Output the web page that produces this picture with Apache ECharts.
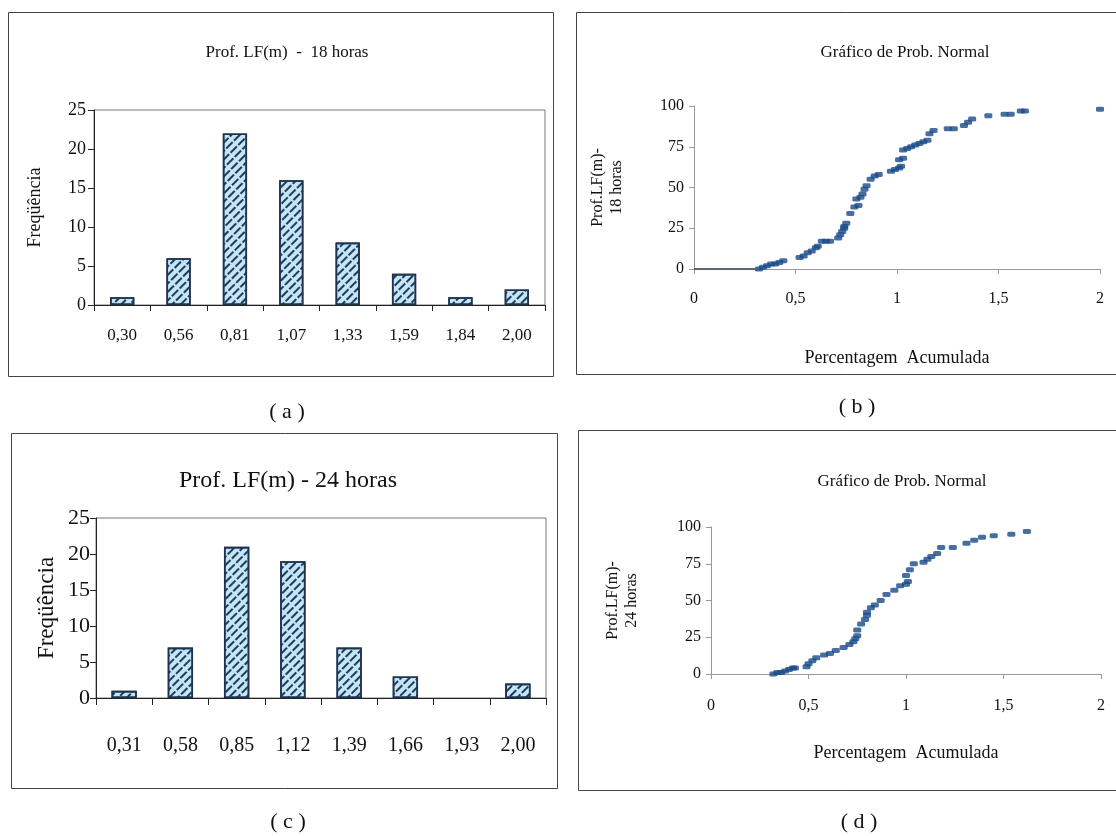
<!DOCTYPE html>
<html>
<head>
<meta charset="utf-8">
<script src="https://cdn.jsdelivr.net/npm/echarts@6/dist/echarts.min.js"></script>
<style>
html,body{margin:0;padding:0;background:#fff;}
#c{width:1116px;height:836px;}
</style>
</head>
<body>
<div id="c"></div>
<script>
// ---- data ----
var catA = ['0,30','0,56','0,81','1,07','1,33','1,59','1,84','2,00'];
var freqA = [1, 6, 22, 16, 8, 4, 1, 2];
var catC = ['0,31','0,58','0,85','1,12','1,39','1,66','1,93','2,00'];
var freqC = [1, 7, 21, 19, 7, 3, 0, 2];

var probBx = [0.32,0.34,0.36,0.38,0.40,0.42,0.44,0.52,0.54,0.56,0.58,0.60,0.61,0.63,0.65,0.67,0.71,0.72,0.73,0.74,0.74,0.75,0.77,0.79,0.81,0.80,0.82,0.83,0.84,0.85,0.87,0.89,0.91,0.97,0.99,1.01,1.02,1.01,1.03,1.03,1.05,1.07,1.09,1.11,1.13,1.15,1.16,1.18,1.25,1.28,1.33,1.35,1.37,1.45,1.53,1.56,1.61,1.63,2.00];
var probBy = [0,1,2,3,3,4,5,7,8,10,11,13,14,17,17,17,19,21,23,25,26,28,34,38,39,43,44,46,49,51,55,57,58,60,61,62,63,67,68,73,74,75,76,77,78,79,83,85,86,86,88,90,92,94,95,95,97,97,98];
var baseBx = [0, 0.3];
var baseBy = [0, 0];

var probDx = [0.32,0.34,0.36,0.38,0.40,0.42,0.43,0.49,0.50,0.52,0.54,0.58,0.61,0.64,0.68,0.71,0.73,0.74,0.75,0.75,0.77,0.79,0.80,0.80,0.82,0.84,0.87,0.90,0.94,0.97,1.00,1.01,1.00,1.02,1.04,1.09,1.11,1.13,1.16,1.18,1.24,1.31,1.35,1.39,1.45,1.54,1.62];
var probDy = [0,1,1,2,3,4,4,5,7,9,11,13,14,16,18,20,22,24,26,30,34,37,40,42,45,47,50,54,57,60,61,63,67,71,75,76,78,80,82,86,86,89,91,93,94,95,97];

function pairs(xs, ys){ var r=[]; for(var i=0;i<xs.length;i++) r.push([xs[i], ys[i]]); return r; }
function comma(v){ return String(v).replace('.', ','); }
function hideZero(arr){ return arr.map(function(v){ return v === 0 ? '-' : v; }); }

var FONT = "'Liberation Serif','Times New Roman',serif";
var TXT = '#111';

var barDecal = {
  symbol: 'rect',
  color: '#1f3a5a',
  dashArrayX: [[9, 2]],
  dashArrayY: [1.6, 4],
  rotation: -Math.PI / 4,
  symbolSize: 1
};
var barStyle = {
  color: '#c3e5f6',
  borderColor: '#1f3350',
  borderWidth: 1.6,
  decal: barDecal
};

var chart = echarts.init(document.getElementById('c'), null, {renderer: 'canvas'});

var option = {
  backgroundColor: '#fff',
  animation: false,
  textStyle: {fontFamily: FONT},
  title: [
    {text: 'Prof. LF(m)  -  18 horas', left: 282, top: 39, textAlign: 'center',
     textStyle: {fontFamily: FONT, fontSize: 17, fontWeight: 'normal', color: TXT}},
    {text: 'Gráfico de Prob. Normal', left: 900, top: 39, textAlign: 'center',
     textStyle: {fontFamily: FONT, fontSize: 17, fontWeight: 'normal', color: TXT}},
    {text: 'Prof. LF(m) - 24 horas', left: 283, top: 464, textAlign: 'center',
     textStyle: {fontFamily: FONT, fontSize: 24, fontWeight: 'normal', color: TXT, letterSpacing: -1}},
    {text: 'Gráfico de Prob. Normal', left: 897, top: 468, textAlign: 'center',
     textStyle: {fontFamily: FONT, fontSize: 17, fontWeight: 'normal', color: TXT}},
    {text: '( a )', left: 282, top: 396, textAlign: 'center',
     textStyle: {fontFamily: FONT, fontSize: 22, fontWeight: 'normal', color: TXT}},
    {text: '( b )', left: 852, top: 391, textAlign: 'center',
     textStyle: {fontFamily: FONT, fontSize: 22, fontWeight: 'normal', color: TXT}},
    {text: '( c )', left: 283, top: 806, textAlign: 'center',
     textStyle: {fontFamily: FONT, fontSize: 22, fontWeight: 'normal', color: TXT}},
    {text: '( d )', left: 854, top: 806, textAlign: 'center',
     textStyle: {fontFamily: FONT, fontSize: 22, fontWeight: 'normal', color: TXT}}
  ],
  graphic: [
    {type: 'rect', shape: {x: 8.5, y: 12.5, width: 545, height: 364}, style: {fill: 'none', stroke: '#444', lineWidth: 1}, z: -1},
    {type: 'rect', shape: {x: 576.5, y: 12.5, width: 560, height: 362}, style: {fill: 'none', stroke: '#444', lineWidth: 1}, z: -1},
    {type: 'rect', shape: {x: 11.5, y: 433.5, width: 546, height: 355}, style: {fill: 'none', stroke: '#444', lineWidth: 1}, z: -1},
    {type: 'rect', shape: {x: 578.5, y: 430.5, width: 560, height: 360}, style: {fill: 'none', stroke: '#444', lineWidth: 1}, z: -1}
  ],
  grid: [
    {left: 94, top: 110, width: 451, height: 195, show: true, borderColor: '#777', borderWidth: 1, containLabel: false},
    {left: 694, top: 106, width: 406, height: 163, containLabel: false},
    {left: 96, top: 518, width: 450, height: 180, show: true, borderColor: '#777', borderWidth: 1, containLabel: false},
    {left: 711, top: 527, width: 390, height: 147, containLabel: false}
  ],
  xAxis: [
    {gridIndex: 0, type: 'category', data: catA, boundaryGap: true,
     axisLine: {lineStyle: {color: '#222', width: 1}},
     axisTick: {show: true, length: 6, lineStyle: {color: '#222'}},
     axisLabel: {color: TXT, fontFamily: FONT, fontSize: 17, margin: 22, letterSpacing: -1}},
    {gridIndex: 1, type: 'value', min: 0, max: 2, interval: 0.5,
     splitLine: {show: false},
     axisLine: {lineStyle: {color: '#999', width: 1}},
     axisTick: {show: true, length: 5, lineStyle: {color: '#999'}},
     axisLabel: {color: TXT, fontFamily: FONT, fontSize: 16, margin: 22, formatter: comma},
     name: 'Percentagem  Acumulada', nameLocation: 'middle', nameGap: 80,
     nameTextStyle: {color: TXT, fontFamily: FONT, fontSize: 18}},
    {gridIndex: 2, type: 'category', data: catC, boundaryGap: true,
     axisLine: {lineStyle: {color: '#222', width: 1}},
     axisTick: {show: true, length: 7, lineStyle: {color: '#222'}},
     axisLabel: {color: TXT, fontFamily: FONT, fontSize: 20, margin: 38, letterSpacing: -2}},
    {gridIndex: 3, type: 'value', min: 0, max: 2, interval: 0.5,
     splitLine: {show: false},
     axisLine: {lineStyle: {color: '#999', width: 1}},
     axisTick: {show: true, length: 5, lineStyle: {color: '#999'}},
     axisLabel: {color: TXT, fontFamily: FONT, fontSize: 16, margin: 24, formatter: comma},
     name: 'Percentagem  Acumulada', nameLocation: 'middle', nameGap: 70,
     nameTextStyle: {color: TXT, fontFamily: FONT, fontSize: 18}}
  ],
  yAxis: [
    {gridIndex: 0, type: 'value', min: 0, max: 25, interval: 5,
     splitLine: {show: false},
     axisLine: {show: true, lineStyle: {color: '#222'}},
     axisTick: {show: true, length: 6, lineStyle: {color: '#222'}},
     axisLabel: {color: TXT, fontFamily: FONT, fontSize: 18, margin: 8, letterSpacing: -1},
     name: 'Freqüência', nameLocation: 'middle', nameGap: 50,
     nameTextStyle: {color: TXT, fontFamily: FONT, fontSize: 18}},
    {gridIndex: 1, type: 'value', min: 0, max: 100, interval: 25,
     splitLine: {show: false},
     axisLine: {show: true, lineStyle: {color: '#999'}},
     axisTick: {show: true, length: 5, lineStyle: {color: '#999'}},
     axisLabel: {color: TXT, fontFamily: FONT, fontSize: 16, margin: 10, letterSpacing: -1},
     name: 'Prof.LF(m)-\n18 horas', nameLocation: 'middle', nameGap: 68,
     nameTextStyle: {color: TXT, fontFamily: FONT, fontSize: 16, lineHeight: 19}},
    {gridIndex: 2, type: 'value', min: 0, max: 25, interval: 5,
     splitLine: {show: false},
     axisLine: {show: true, lineStyle: {color: '#222'}},
     axisTick: {show: true, length: 6, lineStyle: {color: '#222'}},
     axisLabel: {color: TXT, fontFamily: FONT, fontSize: 22, margin: 6, letterSpacing: -2},
     name: 'Freqüência', nameLocation: 'middle', nameGap: 38,
     nameTextStyle: {color: TXT, fontFamily: FONT, fontSize: 23}},
    {gridIndex: 3, type: 'value', min: 0, max: 100, interval: 25,
     splitLine: {show: false},
     axisLine: {show: true, lineStyle: {color: '#999'}},
     axisTick: {show: true, length: 5, lineStyle: {color: '#999'}},
     axisLabel: {color: TXT, fontFamily: FONT, fontSize: 16, margin: 10, letterSpacing: -1},
     name: 'Prof.LF(m)-\n24 horas', nameLocation: 'middle', nameGap: 70,
     nameTextStyle: {color: TXT, fontFamily: FONT, fontSize: 16, lineHeight: 19}}
  ],
  series: [
    {type: 'bar', xAxisIndex: 0, yAxisIndex: 0, data: freqA, barWidth: '43%', itemStyle: barStyle},
    {type: 'line', xAxisIndex: 1, yAxisIndex: 1, data: pairs(baseBx, baseBy), symbol: 'none',
     lineStyle: {color: '#2a3a40', width: 1.5}, z: 3},
    {type: 'scatter', xAxisIndex: 1, yAxisIndex: 1, data: pairs(probBx, probBy),
     symbol: 'roundRect', symbolSize: [8, 5], itemStyle: {color: '#184a88'}},
    {type: 'bar', xAxisIndex: 2, yAxisIndex: 2, data: hideZero(freqC), barWidth: '45%', itemStyle: barStyle},
    {type: 'scatter', xAxisIndex: 3, yAxisIndex: 3, data: pairs(probDx, probDy),
     symbol: 'roundRect', symbolSize: [8, 5], itemStyle: {color: '#184a88'}}
  ]
};
chart.setOption(option);
</script>
</body>
</html>
